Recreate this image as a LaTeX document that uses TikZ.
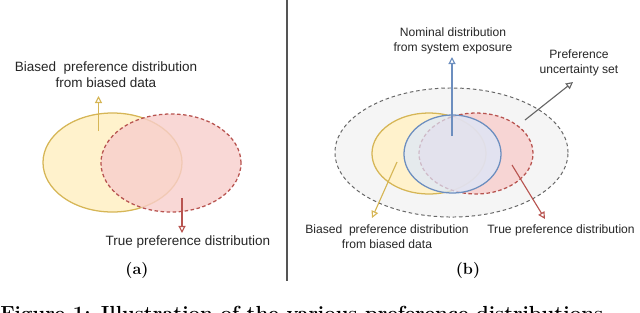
\documentclass[tikz,border=0pt]{standalone}
\usepackage{fontspec}
\setsansfont{Liberation Sans}
\usetikzlibrary{arrows.meta, shapes.geometric, positioning}
\definecolor{prBias}{HTML}{D6B656}
\definecolor{prBiasFill}{HTML}{FFF2CC}
\definecolor{prTrue}{HTML}{B85450}
\definecolor{prTrueFill}{HTML}{F8CECC}
\definecolor{prNom}{HTML}{6C8EBF}
\definecolor{prNomFill}{HTML}{DAE8FC}
\definecolor{prSet}{HTML}{666666}
\definecolor{prSetFill}{HTML}{F5F5F5}
\definecolor{prRule}{HTML}{555555}
\tikzset{
  distell/.style={draw, ellipse, inner sep=0pt, line width=0.9pt},
  biasell/.style={distell, draw=prBias, fill=prBiasFill},
  trueell/.style={distell, draw=prTrue, fill=prTrueFill, fill opacity=0.8, dash pattern=on 2.5pt off 1.8pt},
  nomell/.style={distell, draw=prNom, fill=prNomFill, fill opacity=0.7},
  setell/.style={distell, draw=prSet, fill=prSetFill, line width=0.7pt, dash pattern=on 2.5pt off 2pt},
  pointer/.style={-{Triangle[open, length=5pt, width=5pt]}, line width=0.8pt},
  lbl/.style={font=\sffamily\fontsize{9.6}{11.2}\selectfont, text=black!85, align=center, inner sep=0pt},
  lblb/.style={lbl, font=\sffamily\fontsize{8.6}{10.6}\selectfont},
  sublbl/.style={font=\fontsize{11.5}{13}\selectfont\bfseries, inner sep=0pt},
  figcap/.style={font=\fontsize{14.5}{16}\selectfont\bfseries, inner sep=0pt, anchor=base west}
}

\begin{document}
\begin{tikzpicture}[x=0.025cm, y=-0.025cm]
  \useasboundingbox (0,0) rectangle (640,312);

  % (a) biased vs. true
  \node[biasell, minimum width=3.475cm, minimum height=2.475cm] (bias a) at (112.5,162.5) {};
  \node[trueell, minimum width=3.5cm, minimum height=2.45cm] (true a) at (171,163) {};
  \node[lbl] (bias lbl a) at (106,75) {Biased\ \ preference distribution\\from biased data};
  \node[lbl] (true lbl a) at (188,242) {True preference distribution};
  \coordinate (bias a tail) at (98.5,131);
  \coordinate (bias a tip) at (98.5,96);
  \coordinate (true a tail) at (182,198);
  \coordinate (true a tip) at (182,233);
  \draw[pointer, prBias] (bias a tail) -- (bias a tip);
  \draw[pointer, prTrue] (true a tail) -- (true a tip);
  \node[sublbl] (cap a) at (137,270) {(a)};

  % divider
  \coordinate (rule top) at (287,0);
  \coordinate (rule bot) at (287,281);
  \draw[prRule, line width=1.2pt] (rule top) -- (rule bot);

  % (b) uncertainty set
  \node[setell, minimum width=5.825cm, minimum height=3.225cm] (set b) at (451.5,152.5) {};
  \node[biasell, minimum width=2.85cm, minimum height=2.025cm] (bias b) at (429,153.5) {};
  \node[trueell, minimum width=2.85cm, minimum height=2.025cm] (true b) at (476,153.5) {};
  \node[nomell, minimum width=2.425cm, minimum height=1.95cm] (nom b) at (452.5,154) {};

  \node[lblb] (nom lbl) at (453,40.5) {Nominal distribution\\from system exposure};
  \node[lblb] (set lbl) at (579,63) {Preference\\uncertainty set};
  \node[lblb] (bias lbl b) at (387,236.5) {Biased\ \ preference distribution\\from biased data};
  \node[lblb] (true lbl b) at (561,230) {True preference distribution};

  \coordinate (nom tail) at (452,136);
  \coordinate (nom tip) at (452,57);
  \coordinate (set tail) at (525,120);
  \coordinate (set tip) at (573,82);
  \coordinate (bias b tail) at (397,162);
  \coordinate (bias b tip) at (372,218);
  \coordinate (true b tail) at (512,165);
  \coordinate (true b tip) at (545,219);
  \draw[pointer, prNom] (nom tail) -- (nom tip);
  \draw[pointer, prSet] (set tail) -- (set tip);
  \draw[pointer, prBias] (bias b tail) -- (bias b tip);
  \draw[pointer, prTrue] (true b tail) -- (true b tip);
  \node[sublbl] (cap b) at (468,270) {(b)};

  % caption, cut by the page edge
  \node[figcap] (fig cap) at (0,320) {Figure 1: Illustration of the various preference distributions};
\end{tikzpicture}
\end{document}
